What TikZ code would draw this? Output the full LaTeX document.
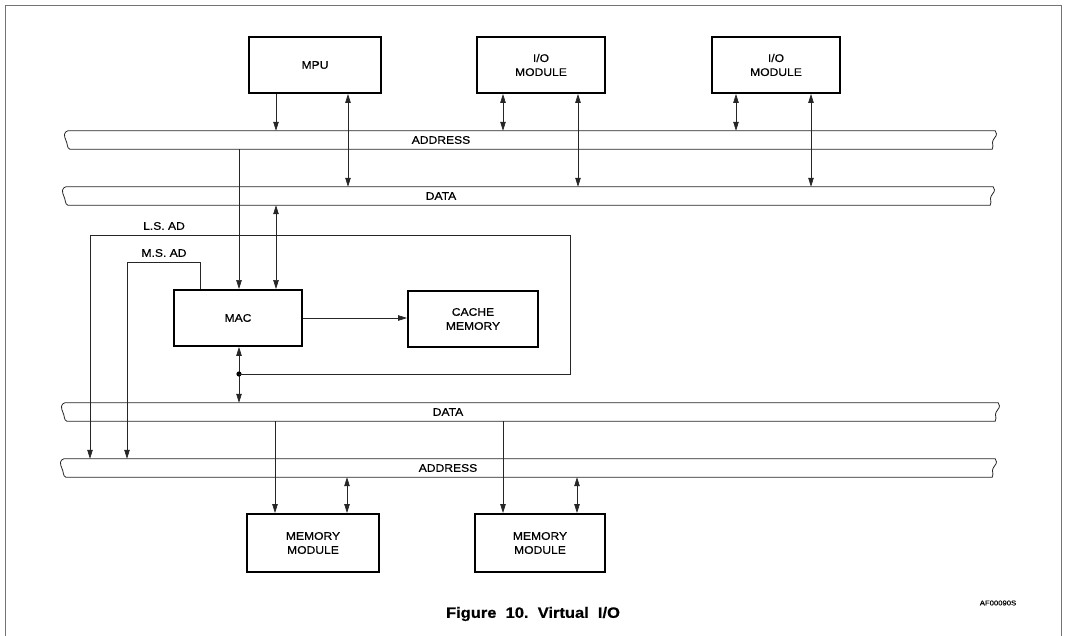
\documentclass[tikz,border=0pt]{standalone}
\usepackage{fontspec}
\setmainfont{Liberation Sans}[FakeStretch=1.1, FakeBold=0.6]
\usepackage{tikz}
\usetikzlibrary{arrows.meta}

\tikzset{
  unit/.style={draw, line width=1.9pt, align=center, minimum width=130pt,
    minimum height=56pt, inner sep=2pt, font=\fontsize{11}{14}\selectfont},
  bus/.style={minimum height=18pt, inner sep=0pt},
  busline/.style={line width=0.8pt, black!85},
  wire/.style={line width=0.7pt, black!85},
  tag/.style={font=\fontsize{11}{14}\selectfont},
  >={Triangle[length=9pt,width=5.5pt]}
}

% outline of a bus: two long edges with broken ends
\newcommand\drawbus[1]{%
  \draw[busline] (#1.north west) -- (#1.north east)
    .. controls +(3,5) and +(2,-4) .. ([xshift=-2pt]#1.east)
    .. controls +(-2,4) and +(2,-5) .. ([xshift=-3pt]#1.south east)
    -- ([xshift=2pt]#1.south west)
    .. controls +(-3,-1) and +(2,4) .. ([xshift=-2pt]#1.west)
    .. controls +(-2,-4) and +(-4,1) .. (#1.north west);
}

\begin{document}
\begin{tikzpicture}[x=1pt,y=-1pt]
  \useasboundingbox (0,0) rectangle (1066,636);
  \draw[line width=0.8pt, black!55] (5,636) |- (1061,5) -- (1061,636);

  % units on the system bus
  \node[unit, minimum width=132pt] (mpu) at (315,65) {MPU};
  \node[unit, minimum width=128pt] (iomodA) at (541,65) {I/O\\MODULE};
  \node[unit, minimum width=128pt] (iomodB) at (776,65) {I/O\\MODULE};

  % system side buses
  \node[bus, minimum width=927pt] (sysaddr) at (531.5,140) {};
  \node[bus, minimum width=927pt] (sysdata) at (529.5,196) {};
  \drawbus{sysaddr}
  \drawbus{sysdata}
  \node[tag] (sysaddrlbl) at (441,140) {ADDRESS};
  \node[tag] (sysdatalbl) at (441,196) {DATA};

  % memory side buses
  \node[bus, minimum width=933pt] (memdata) at (531.5,412) {};
  \node[bus, minimum width=931pt] (memaddr) at (529.5,468) {};
  \drawbus{memdata}
  \drawbus{memaddr}
  \node[tag] (memdatalbl) at (448,412) {DATA};
  \node[tag] (memaddrlbl) at (448,468) {ADDRESS};

  % translation unit and cache
  \node[unit, minimum width=128pt] (mac) at (238,318) {MAC};
  \node[unit] (cache) at (473,319) {CACHE\\MEMORY};
  \node[unit, minimum width=132pt, minimum height=58pt] (memA) at (313,543) {MEMORY\\MODULE};
  \node[unit, minimum height=58pt] (memB) at (540,543) {MEMORY\\MODULE};

  % system bus connections
  \draw[wire,->] (mpu.south -| 276,0) -- (sysaddr.north -| 276,0);
  \draw[wire,<->] (mpu.south -| 348,0) -- (sysdata.north -| 348,0);
  \draw[wire,<->] (iomodA.south -| 503,0) -- (sysaddr.north -| 503,0);
  \draw[wire,<->] (iomodA.south -| 578,0) -- (sysdata.north -| 578,0);
  \draw[wire,<->] (iomodB.south -| 736,0) -- (sysaddr.north -| 736,0);
  \draw[wire,<->] (iomodB.south -| 811,0) -- (sysdata.north -| 811,0);

  \draw[wire,->] (sysaddr.south -| 239,0) -- (mac.north -| 239,0);
  \draw[wire,<->] (sysdata.south -| 276,0) -- (mac.north -| 276,0);
  \draw[wire,->] (mac.east) -- (mac.east -| cache.west);

  % data path and the two address halves
  \coordinate (jn) at (239,374);
  \draw[wire,->] (jn) -- (mac.south -| jn);
  \draw[wire,->] (jn) -- (memdata.north -| jn);
  \fill (jn) circle (2.6pt);
  \draw[wire,->] (jn) -| (570,235) -| (memaddr.north -| 90,0);
  \draw[wire,->] (mac.north -| 200,0) |- (127,262) -- (memaddr.north -| 127,0);
  \node[tag] (lsad) at (164,226) {L.S. AD};
  \node[tag] (msad) at (164,253) {M.S. AD};

  % memory bus connections
  \draw[wire,->] (memdata.south -| 275,0) -- (memA.north -| 275,0);
  \draw[wire,<->] (memaddr.south -| 347,0) -- (memA.north -| 347,0);
  \draw[wire,->] (memdata.south -| 503,0) -- (memB.north -| 503,0);
  \draw[wire,<->] (memaddr.south -| 577,0) -- (memB.north -| 577,0);

  \node[font=\fontsize{7}{8}\selectfont] (figid) at (998,603) {AF00090S};
  \node[font=\bfseries\fontsize{15}{17}\selectfont] (caption) at (533,614)
    {Figure\ \ 10.\ \ Virtual\ \ I/O};
\end{tikzpicture}
\end{document}
